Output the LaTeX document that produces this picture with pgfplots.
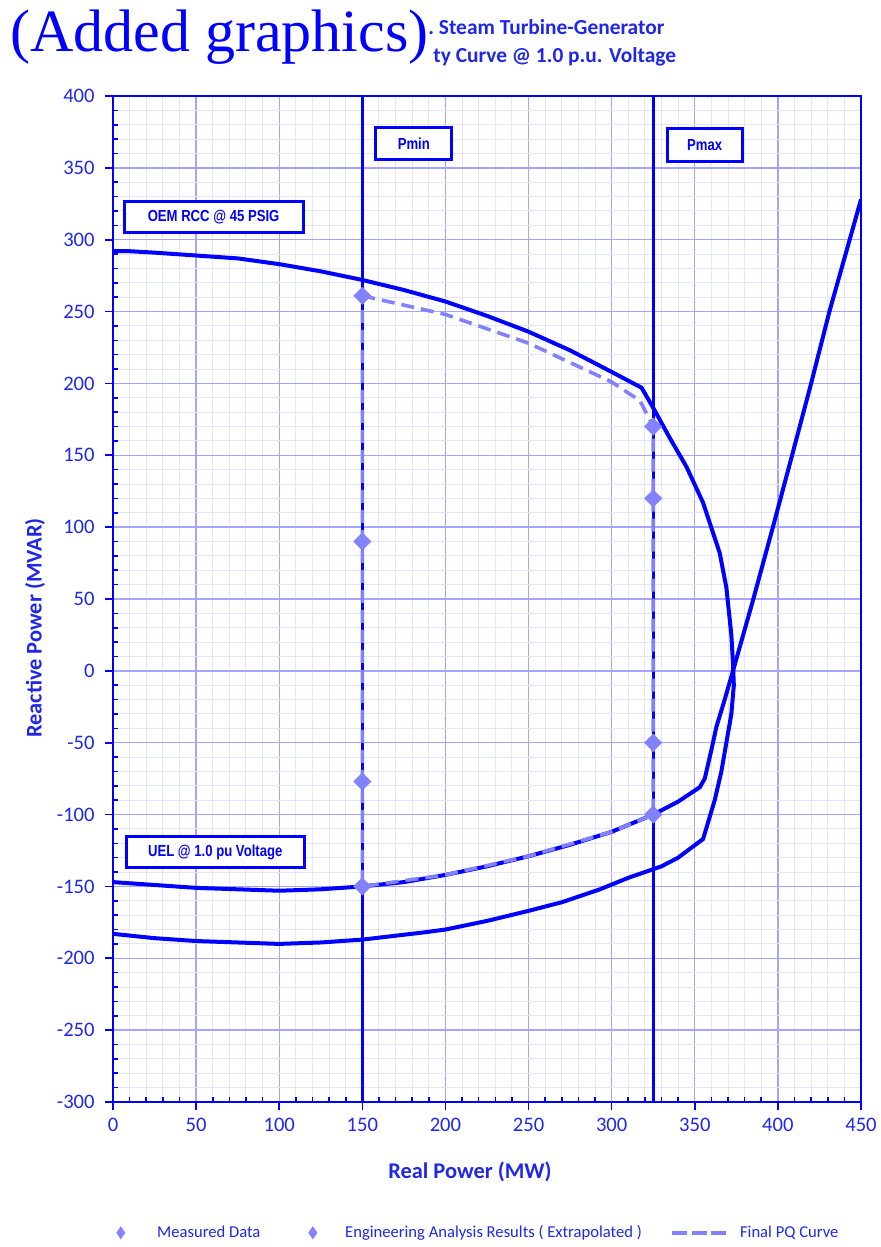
\documentclass[border=0pt]{standalone}
\usepackage{fontspec}
\setmainfont{Carlito}
\newfontfamily\arialf[FakeStretch=0.82]{Liberation Sans}
\newfontfamily\timesf{Liberation Serif}
\usepackage{pgfplots}
\pgfplotsset{compat=1.18}
\definecolor{dblue}{RGB}{0,0,255}
\definecolor{tblue}{RGB}{30,40,230}
\definecolor{lblue}{RGB}{130,130,255}
\definecolor{gmaj}{RGB}{165,165,255}
\definecolor{gmin}{RGB}{228,228,255}
\begin{document}
\begin{tikzpicture}
\path[use as bounding box] (-56.5pt,-72.5pt) rectangle (383.5pt,551pt);
\begin{axis}[at={(0pt,0pt)}, anchor=south west, scale only axis, width=374pt, height=503pt,
  xmin=0, xmax=450, ymin=-300, ymax=400,
  xtick={0,50,...,450}, ytick={-300,-250,...,400},
  xticklabels={0,50,100,150,200,250,300,350,400,450},
  yticklabels={-300,-250,-200,-150,-100,-50,0,50,100,150,200,250,300,350,400},
  minor x tick num=4, minor y tick num=4,
  grid=both, major grid style={gmaj, line width=0.7pt}, minor grid style={gmin, line width=0.5pt},
  axis line style={dblue, line width=1pt},
  tick style={dblue, line width=0.8pt},
  tick align=inside, tick pos=left,
  major tick length=4pt, minor tick length=2.5pt,
  every major y tick/.append style={xshift=-4pt},
  every major x tick/.append style={yshift=-4pt},
  ticklabel style={font=\fontsize{10.3}{12}\selectfont, text=tblue},
  yticklabel style={inner sep=0pt, xshift=-9pt},
  xticklabel style={inner sep=0pt, yshift=-8pt},
  legend style={at={(axis description cs:-0.0094,-0.130)}, anchor=west, draw=none, fill=none,
    legend columns=3, font=\fontsize{8.3}{10}\selectfont, text=tblue,
    /tikz/column 2/.style={column sep=10pt},
    /tikz/column 4/.style={column sep=12pt}},
]
% OEM reactive capability curve
\addplot[dblue, line width=2pt, forget plot] coordinates {
(0,292) (10,292) (25,291) (50,289) (75,287) (100,283) (125,278) (150,272) (175,265)
(200,257) (225,247) (250,236) (275,223) (300,208) (318,197) (325,183) (335,162)
(345,142) (355,117) (365,82) (369,58) (372,25) (373,5) (373.5,-10) (372,-30)
(369,-50) (366,-70) (362,-90) (355,-117) (340,-130) (330,-136) (310,-144)
(293,-152) (270,-161) (250,-167) (225,-174) (200,-180) (187,-182) (150,-187)
(125,-189) (100,-190) (75,-189) (50,-188) (25,-186) (0,-183)};
% UEL
\addplot[dblue, line width=2pt, forget plot] coordinates {
(0,-147) (25,-149) (50,-151) (75,-152) (100,-153) (125,-152) (150,-150) (175,-147)
(200,-142) (225,-136) (250,-129) (275,-121) (300,-112) (325,-100) (340,-91)
(353,-81) (356,-75) (360,-55) (363,-39) (368,-20) (373,0) (385,49) (397,100)
(409,152) (420,200) (431,250) (450,328)};
% Pmin / Pmax
\addplot[dblue, line width=1.5pt, forget plot] coordinates {(150,-300) (150,400)};
\addplot[dblue, line width=1.5pt, forget plot] coordinates {(325,-300) (325,400)};
% Final PQ curve
\addplot[lblue, line width=1.8pt, dash pattern=on 6.5pt off 3.5pt, forget plot] coordinates {
(150,261) (200,248) (250,228) (300,201) (317,188) (325,170) (325,-100) (300,-112)
(250,-129) (200,-142) (150,-150) (150,261)};
% Measured data
\addplot[only marks, mark=square*, mark size=3pt, mark options={rotate=45, fill=lblue, draw=lblue}, lblue,
  legend image code/.code={\fill[lblue] (0pt,2.9pt) -- (2pt,0pt) -- (0pt,-2.9pt) -- (-2pt,0pt) -- cycle; \path (-4pt,0pt) (16pt,0pt);}]
  coordinates {(150,90) (150,-77) (325,120) (325,-50)};
\addlegendentry{Measured Data}
% Extrapolated
\addplot[only marks, mark=square*, mark size=3pt, mark options={rotate=45, fill=lblue, draw=lblue}, lblue,
  legend image code/.code={\fill[lblue] (0pt,2.9pt) -- (2pt,0pt) -- (0pt,-2.9pt) -- (-2pt,0pt) -- cycle; \path (-14pt,0pt) (14pt,0pt);}]
  coordinates {(150,261) (150,-150) (325,170) (325,-100)};
\addlegendentry{Engineering Analysis Results ( Extrapolated )}
\addlegendimage{lblue, line width=2pt, legend image code/.code={\draw[lblue, line width=2.2pt, dash pattern=on 7.5pt off 2.25pt] (0pt,0pt) -- (27pt,0pt); \path (31pt,0pt);}}
\addlegendentry{Final PQ Curve}
% boxes
\tikzset{lbox/.style={draw=dblue, line width=1.5pt, fill=white, text=dblue, font=\arialf\bfseries\fontsize{8}{9}\selectfont, inner sep=0pt, minimum height=15.5pt}}
\node[lbox, minimum width=38pt, minimum height=16pt] at (axis cs:181,367) {Pmin};
\node[lbox, minimum width=37.5pt, minimum height=16.5pt] at (axis cs:356,366) {Pmax};
\node[lbox, minimum width=89.5pt] at (axis cs:60.5,316) {OEM RCC @ 45 PSIG};
\node[lbox, minimum width=89pt] at (axis cs:61.5,-126) {UEL @ 1.0 pu Voltage};
\end{axis}
\node[font=\bfseries\fontsize{11.2}{13}\selectfont, text=tblue] at (178.5pt,-35pt) {Real Power (MW)};
\node[font=\bfseries\fontsize{11.2}{13}\selectfont, text=tblue, rotate=90] at (-39pt,237pt) {Reactive Power (MVAR)};
\node[anchor=base west, inner sep=0pt, font=\bfseries\fontsize{10.7}{12}\selectfont, text=tblue] at (157.5pt,533.5pt) {.\ Steam Turbine-Generator};
\node[anchor=base west, inner sep=0pt, font=\bfseries\fontsize{10.7}{12}\selectfont, text=tblue] at (160pt,519.5pt) {ty Curve @ 1.0 p.u. Voltage};
\node[anchor=base west, inner sep=0pt, font=\timesf\fontsize{30}{36}\selectfont, text=blue] at (-51.5pt,525pt) {(Added graphics)};
\end{tikzpicture}
\end{document}
